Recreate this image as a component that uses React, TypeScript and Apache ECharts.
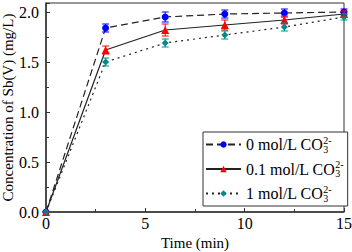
import React, { useEffect, useRef } from "react";
import * as echarts from "echarts";

const times = [0, 3, 6, 9, 12, 15];
const names = ["0 mol/L", "0.1 mol/L", "1 mol/L"];
const conc0 = [0, 1.84, 1.95, 1.98, 1.99, 2.0];
const err0 = [0, 0.04, 0.05, 0.04, 0.04, 0.03];
const conc01 = [0, 1.62, 1.82, 1.87, 1.92, 1.98];
const err01 = [0, 0.04, 0.06, 0.05, 0.04, 0.03];
const conc1 = [0, 1.5, 1.69, 1.77, 1.85, 1.95];
const err1 = [0, 0.04, 0.04, 0.04, 0.04, 0.03];

const colors = ["#0000FF", "#FF0000", "#008B8B"];
const symbols = ["circle", "triangle", "diamond"];
const lineTypes: any[] = [[7, 4], "solid", [2, 4]];
const FONT = "Liberation Serif";

export default function App() {
  const ref = useRef<HTMLDivElement>(null);
  useEffect(() => {
    if (!ref.current) return;
    const chart = echarts.init(ref.current, undefined, { renderer: "svg" });
    const concs = [conc0, conc01, conc1];
    const errs = [err0, err01, err1];
    const lineSeries = names.map((n, i) => ({
      name: n,
      type: "line",
      data: times.map((t, j) => [t, concs[i][j]]),
      symbol: symbols[i],
      symbolSize: i === 1 ? 8 : 7,
      showSymbol: true,
      itemStyle: { color: colors[i] },
      lineStyle: { color: "#222", width: 1.2, type: lineTypes[i] },
      z: 3,
    }));
    const errSeries = names.map((n, i) => ({
      type: "custom",
      name: n + "_err",
      data: times.map((t, j) => [t, concs[i][j] - errs[i][j], concs[i][j] + errs[i][j]]),
      encode: { x: 0, y: [1, 2] },
      z: 4,
      silent: true,
      renderItem: (params: any, api: any) => {
        const x = api.value(0);
        const lo = api.coord([x, api.value(1)]);
        const hi = api.coord([x, api.value(2)]);
        const c = 3.5;
        const st = { stroke: colors[i], lineWidth: 1 };
        return {
          type: "group",
          children: [
            { type: "line", shape: { x1: lo[0], y1: lo[1], x2: hi[0], y2: hi[1] }, style: st },
            { type: "line", shape: { x1: lo[0] - c, y1: lo[1], x2: lo[0] + c, y2: lo[1] }, style: st },
            { type: "line", shape: { x1: hi[0] - c, y1: hi[1], x2: hi[0] + c, y2: hi[1] }, style: st },
          ],
        };
      },
    }));
    chart.setOption({
      animation: false,
      textStyle: { fontFamily: FONT },
      grid: {
        left: 46,
        right: 8,
        top: 3,
        bottom: 40,
        containLabel: false,
        outerBoundsMode: "none",
        show: true,
        borderColor: "#333",
        borderWidth: 1,
      },
      xAxis: {
        type: "value",
        min: 0,
        max: 15,
        interval: 5,
        name: "Time (min)",
        nameLocation: "middle",
        nameGap: 23,
        nameMoveOverlap: false,
        nameTextStyle: { fontFamily: FONT, fontSize: 15, color: "#000" },
        axisLine: { lineStyle: { color: "#333", width: 1.5 } },
        axisTick: { inside: true, length: 4, lineStyle: { color: "#333" } },
        minorTick: { show: true, splitNumber: 2, length: 3, lineStyle: { color: "#333" } },
        splitLine: { show: false },
        axisLabel: { fontFamily: FONT, fontSize: 16, color: "#000", margin: 3 },
      },
      yAxis: {
        type: "value",
        min: 0,
        max: 2.09,
        interval: 0.5,
        name: "Concentration of Sb(V) (mg/L)",
        nameLocation: "middle",
        nameGap: 31,
        nameMoveOverlap: false,
        nameTextStyle: { fontFamily: FONT, fontSize: 15, color: "#000" },
        axisLine: { lineStyle: { color: "#333", width: 1.5 } },
        axisTick: { inside: true, length: 4, lineStyle: { color: "#333" } },
        minorTick: { show: true, splitNumber: 2, length: 3, lineStyle: { color: "#333" } },
        splitLine: { show: false },
        axisLabel: {
          fontFamily: FONT,
          fontSize: 16,
          color: "#000",
          margin: 7,
          formatter: (v: number) => (Math.abs(v * 2 - Math.round(v * 2)) < 1e-6 ? v.toFixed(1) : ""),
        },
      },
      legend: {
        data: names,
        orient: "vertical",
        left: 203,
        top: 132,
        width: 139,
        height: 75,
        padding: [3, 4, 3, 2],
        itemGap: 5.5,
        itemWidth: 35,
        itemHeight: 8,
        borderColor: "#333",
        borderWidth: 1,
        backgroundColor: "#fff",
        formatter: (n: string) => `{a|${n} CO}{s|3}{p|2-}`,
        textStyle: {
          fontFamily: FONT,
          fontSize: 16,
          color: "#000",
          rich: {
            a: { fontFamily: FONT, fontSize: 16, color: "#000", lineHeight: 19, verticalAlign: "middle" },
            s: { fontFamily: FONT, fontSize: 10, color: "#000", width: 0, lineHeight: 19, verticalAlign: "bottom" },
            p: { fontFamily: FONT, fontSize: 10, color: "#000", lineHeight: 19, verticalAlign: "top" },
          },
        },
      },
      series: [...lineSeries, ...errSeries],
    });
    return () => chart.dispose();
  }, []);
  return <div ref={ref} style={{ width: 352, height: 252, position: "absolute", left: 0, top: 0 }} />;
}
